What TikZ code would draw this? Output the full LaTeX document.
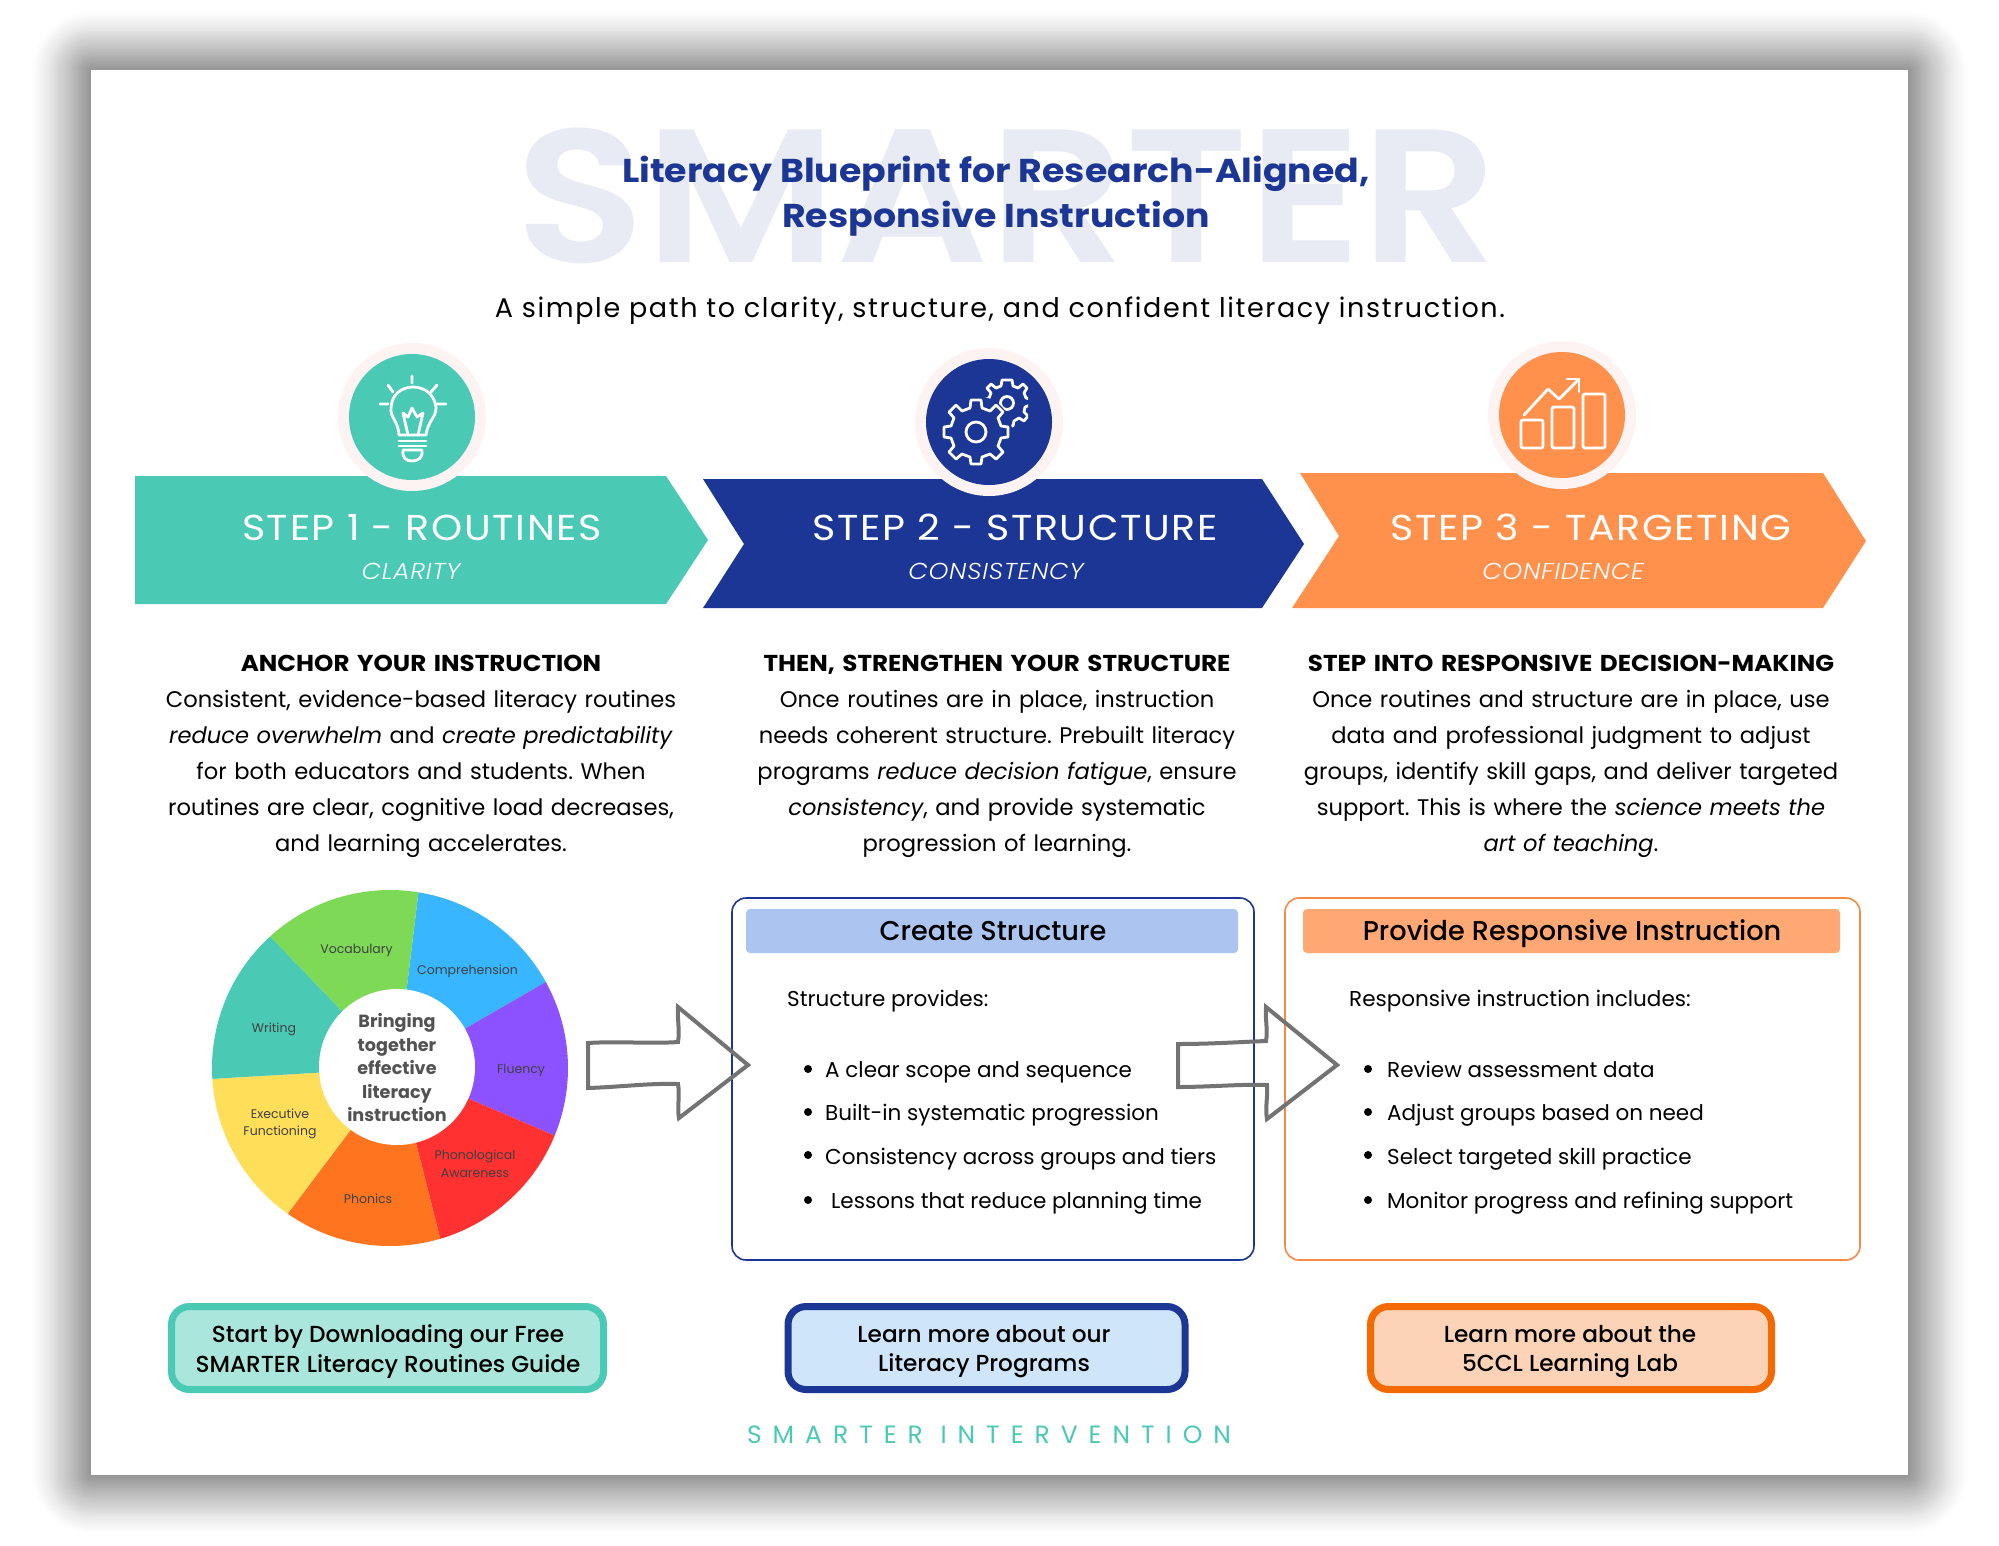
\documentclass[tikz,border=0pt]{standalone}
\usepackage{fontspec}
\setmainfont{Poppins}
\newfontfamily\popsp[LetterSpace=6]{Poppins}
\newfontfamily\popfoot[LetterSpace=44]{Poppins}
\newfontfamily\popwm[FakeStretch=1.12]{Poppins SemiBold}
\newfontfamily\poptitle[FakeStretch=1.1]{Poppins}
\newfontfamily\popstep[FakeStretch=1.1,LetterSpace=4.5]{Poppins}
\newfontfamily\popsub[FakeStretch=1.1,LetterSpace=3]{Poppins Light Italic}
\newfontfamily\pophead[FakeStretch=1.07]{Poppins}
\newfontfamily\popmed{Poppins Medium}
\usetikzlibrary{calc}
\definecolor{teal}{HTML}{4AC9B5}
\definecolor{navy}{HTML}{1B3694}
\definecolor{orng}{HTML}{FF914D}
\definecolor{ring}{HTML}{FDF3F2}
\definecolor{wmark}{HTML}{E8EBF3}
\definecolor{hblue}{HTML}{ABC4F0}
\definecolor{horng}{HTML}{FFA873}
\definecolor{bdorng}{HTML}{F56A00}
\definecolor{frameorng}{HTML}{F58A45}
\definecolor{ctateal}{HTML}{ABE6DC}
\definecolor{ctablue}{HTML}{CFE5FA}
\definecolor{ctaorng}{HTML}{FDD3B8}
\newcommand{\fs}[2]{\fontsize{#1}{#2}\selectfont}
\tikzset{
  x=1pt,y=-1pt,
  chevron/.style={fill=#1,draw=none},
  steptitle/.style={text=white,inner sep=0pt,anchor=base,font=\fs{36}{40}\popstep},
  stepsub/.style={text=white,inner sep=0pt,anchor=base,font=\fs{23}{26}\popsub},
  icon/.style={draw=white,line width=2.8pt,line cap=round,line join=round},
  bodytext/.style={text=black,inner sep=0pt,anchor=north,align=center,text width=600pt,font=\fs{22.6}{36}\frenchspacing},
  boxline/.style={text=black,inner sep=0pt,anchor=base west,font=\fs{21.5}{28}},
  wlabel/.style={text=black!75,inner sep=0pt,align=center,font=\fs{12.5}{17.5}},
  framebox/.style={draw=#1,line width=1.6pt,rounded corners=14pt,fill=none},
  headbar/.style={fill=#1,draw=none,rounded corners=4pt},
  headtext/.style={text=black,inner sep=0pt,anchor=base,font=\fs{27.2}{30}\popmed},
  sketch/.style={draw=black!55,line width=4pt,line join=miter,fill=none},
  bullet/.style={circle,fill=black,inner sep=0pt,minimum size=8pt},
  cta/.style 2 args={draw=#1,fill=#2,line width=7pt,rounded corners=18pt,inner sep=0pt},
  ctatext/.style={text=black,inner sep=0pt,align=center,font=\fs{23.2}{29.5}\popmed},
}
\begin{document}
\begin{tikzpicture}
\useasboundingbox (0,0) rectangle (1999,1545);
% page shadow
\foreach \i in {0,...,39}{
  \pgfmathsetmacro{\g}{60-1.5*\i}
  \pgfmathsetmacro{\o}{0.005+0.016*\i/39}
  \fill[black,opacity=\o,rounded corners={\g*1pt+1pt}] ({91-\g},{70-\g}) rectangle ({1908+\g},{1475+\g});
}
\fill[white] (91,70) rectangle (1908,1475);
% watermark
\node[text=wmark,inner sep=0pt,anchor=base,font=\fs{190}{200}\popwm] (wm) at (1007,262) {SMARTER};
\node[text=navy,inner sep=0pt,align=center,font=\fs{33}{45}\poptitle\bfseries] (title) at (996,196) {Literacy Blueprint for Research-Aligned,\\Responsive Instruction};
\node[text=black,inner sep=0pt,font=\fs{27}{30}\popsp] (sub) at (1000,311) {A simple path to clarity, structure, and confident literacy instruction.};
% chevrons
\fill[chevron=teal] (135,476) -- (666,476) -- (708,540) -- (666,604) -- (135,604) -- cycle;
\fill[chevron=navy] (703,479) -- (1262,479) -- (1304,544) -- (1262,608) -- (703,608) -- (744,544) -- cycle;
\fill[chevron=orng] (1300,473) -- (1823,473) -- (1866,541) -- (1823,608) -- (1292,608) -- (1339,536) -- cycle;
% icon discs
\fill[ring] (412,417) circle[radius=74];
\fill[teal] (412,417) circle[radius=63];
\fill[ring] (989,422) circle[radius=74];
\fill[navy] (989,422) circle[radius=63];
\fill[ring] (1562,415) circle[radius=74];
\fill[orng] (1562,415) circle[radius=63];
% bulb
\draw[icon] (412,376) -- (412,383) (388,385) -- (393,392) (437,385) -- (431,392) (380,404) -- (388,404) (437,404) -- (446,404);
\draw[icon] (399,435) .. controls (398,420) and (390,418) .. (391,408) .. controls (392,380) and (434,380) .. (436,408) .. controls (436,418) and (428,420) .. (426,435) -- cycle;
\draw[icon] (408,435) -- (403,413) -- (408,417) -- (412,408) -- (417,417) -- (423,413) -- (418,435);
\draw[icon] (399,441) -- (426,441) (399,446) -- (426,446);
\draw[icon] (403,450) -- (422,450) .. controls (423,458) and (418,461) .. (412,461) .. controls (406,461) and (402,458) .. (403,450) -- cycle;
% gears
\begin{scope}
\clip (940,370) rectangle (1028,470);
\draw[icon] plot coordinates {
 (1007,380) (1012,380) (1013,386) (1018,388) (1023,384) (1027,388) (1024,393) (1026,398) (1030,399) (1030,405) (1025,407) (1024,412) (1028,416) (1024,421) (1019,418) (1014,421) (1013,426) (1007,426) (1001,426) (1000,421) (995,418) (990,421) (986,416) (990,412) (988,407) (984,405) (984,399) (989,398) (991,393) (987,388) (991,384) (996,388) (1001,386) (1002,380) (1007,380)};
\end{scope}
\draw[icon] (1007,403) circle[radius=6.5];
\fill[navy] (976,432) circle[radius=36];
\draw[icon] plot coordinates {
 (971,400) (981,400) (982,408) (990,411) (996,405) (1003,412) (998,418) (1001,426) (1008,427) (1008,437) (1001,438) (998,446) (1003,452) (996,459) (990,454) (982,457) (981,464) (971,464) (970,457) (962,454) (956,459) (949,452) (954,446) (951,438) (944,437) (944,427) (951,426) (954,418) (949,412) (956,405) (962,411) (970,408) (971,400)};
\draw[icon] (976,432) circle[radius=10];
% chart
\draw[icon,rounded corners=2pt] (1521,420) rectangle (1543,448);
\draw[icon,rounded corners=2pt] (1552,407) rectangle (1574,448);
\draw[icon,rounded corners=2pt] (1583,394) rectangle (1605,448);
\draw[icon] (1524,415) -- (1548,389) -- (1559,399) -- (1579,379);
\draw[icon] (1567,379) -- (1579,379) -- (1579,392);
% step labels
\node[steptitle] (s1) at (422,540) {STEP 1 - ROUTINES};
\node[stepsub] (s1b) at (411,579) {CLARITY};
\node[steptitle] (s2) at (1015,540) {STEP 2 - STRUCTURE};
\node[stepsub] (s2b) at (996,579) {CONSISTENCY};
\node[steptitle] (s3) at (1591,540) {STEP 3 - TARGETING};
\node[stepsub] (s3b) at (1563,579) {CONFIDENCE};
% body
\node[bodytext] (c1) at (421,655) {{\fontsize{23}{36}\pophead\bfseries ANCHOR YOUR INSTRUCTION}\\Consistent, evidence-based literacy routines\\\textit{reduce overwhelm} and \textit{create predictability}\\for both educators and students. When\\routines are clear, cognitive load decreases,\\and learning accelerates.};
\node[bodytext] (c2) at (997,655) {{\fontsize{23}{36}\pophead\bfseries THEN, STRENGTHEN YOUR STRUCTURE}\\Once routines are in place, instruction\\needs coherent structure. Prebuilt literacy\\programs \textit{reduce decision fatigue}, ensure\\\textit{consistency}, and provide systematic\\progression of learning.};
\node[bodytext] (c3) at (1571,655) {{\fontsize{23}{36}\pophead\bfseries STEP INTO RESPONSIVE DECISION-MAKING}\\Once routines and structure are in place, use\\data and professional judgment to adjust\\groups, identify skill gaps, and deliver targeted\\support. This is where the \textit{science meets the}\\\textit{art of teaching}.};
% wheel
\begin{scope}[shift={(390,1068)}]
\foreach \a/\b/\cc in {
 -80.8/-28.9/38B6FF,
 -28.9/22.3/8C52FF,
 22.3/73.6/FF3131,
 73.6/125.1/FF751F,
 125.1/176.5/FFDE59,
 176.5/227.7/4AC9B5,
 227.7/279.2/7ED957}{
  \definecolor{wc}{HTML}{\cc}
  \fill[wc] (7,0) -- (\a:178) arc[start angle=\a,end angle=\b,radius=178] -- cycle;
}
\end{scope}
\fill[white] (397,1067) circle[radius=78];
\node[wlabel] (w1) at (356.5,950) {Vocabulary};
\node[wlabel] (w2) at (467.5,971) {Comprehension};
\node[wlabel] (w3) at (274,1029) {Writing};
\node[wlabel] (w4) at (521,1070) {Fluency};
\node[wlabel] (w5) at (280,1124) {Executive\\Functioning};
\node[wlabel] (w6) at (475,1164) {Phonological\\Awareness};
\node[wlabel] (w7) at (368,1199) {Phonics};
\node[text=black!68,inner sep=0pt,align=center,font=\fs{17.6}{23.5}\bfseries] (wc) at (397,1068) {Bringing\\together\\effective\\literacy\\instruction};
% frames
\draw[framebox=navy] (732,898) rectangle (1254,1260);
\draw[framebox=frameorng] (1285,898) rectangle (1860,1260);
\fill[headbar=hblue] (746,909) rectangle (1238,953);
\fill[headbar=horng] (1303,909) rectangle (1840,953);
\node[headtext] (h2) at (993,940) {Create Structure};
\node[headtext] (h3) at (1572,940) {Provide Responsive Instruction};
% sketch arrows
\draw[sketch] (588,1043) .. controls (620,1041) and (650,1044) .. (678,1042) .. controls (680,1030) and (677,1018) .. (678,1007) -- (748,1065) -- (679,1118) .. controls (677,1108) and (680,1095) .. (678,1084) .. controls (650,1083) and (620,1087) .. (588,1088) -- cycle;
\draw[sketch] (1178,1044) .. controls (1210,1044) and (1240,1042) .. (1266,1041) .. controls (1268,1030) and (1265,1018) .. (1266,1007) -- (1337,1065) -- (1267,1119) .. controls (1265,1108) and (1268,1095) .. (1267,1085) .. controls (1240,1084) and (1210,1087) .. (1178,1087) -- cycle;
% lists
\node[boxline] (t0) at (787,1006) {Structure provides:};
\node[boxline] (t1) at (825,1077) {A clear scope and sequence};
\node[boxline] (t2) at (825,1120) {Built-in systematic progression};
\node[boxline] (t3) at (825,1164) {Consistency across groups and tiers};
\node[boxline] (t4) at (831,1208) {Lessons that reduce planning time};
\foreach \y/\n in {1069/a,1112/b,1155/c,1200/d}{\node[bullet] (bl\n) at (808,\y) {};}
\node[boxline] (u0) at (1349,1006) {Responsive instruction includes:};
\node[boxline] (u1) at (1387,1077) {Review assessment data};
\node[boxline] (u2) at (1387,1120) {Adjust groups based on need};
\node[boxline] (u3) at (1387,1164) {Select targeted skill practice};
\node[boxline] (u4) at (1387,1208) {Monitor progress and refining support};
\foreach \y/\n in {1069/a,1112/b,1155/c,1200/d}{\node[bullet] (br\n) at (1368,\y) {};}
% buttons
\draw[cta={teal}{ctateal}] (171.5,1306.5) rectangle (603.5,1389.5);
\draw[cta={navy}{ctablue}] (788,1306.5) rectangle (1185,1389.5);
\draw[cta={bdorng}{ctaorng}] (1370.5,1306.5) rectangle (1771.5,1389.5);
\node[ctatext] (b1) at (388,1351.5) {Start by Downloading our Free\\SMARTER Literacy Routines Guide};
\node[ctatext] (b2) at (984,1351.5) {Learn more about our\\Literacy Programs};
\node[ctatext] (b3) at (1570,1351.5) {Learn more about the\\5CCL Learning Lab};
\node[text=teal,inner sep=0pt,font=\fs{25}{28}\popfoot] (foot) at (989,1435) {SMARTER INTERVENTION};
\end{tikzpicture}
\end{document}
